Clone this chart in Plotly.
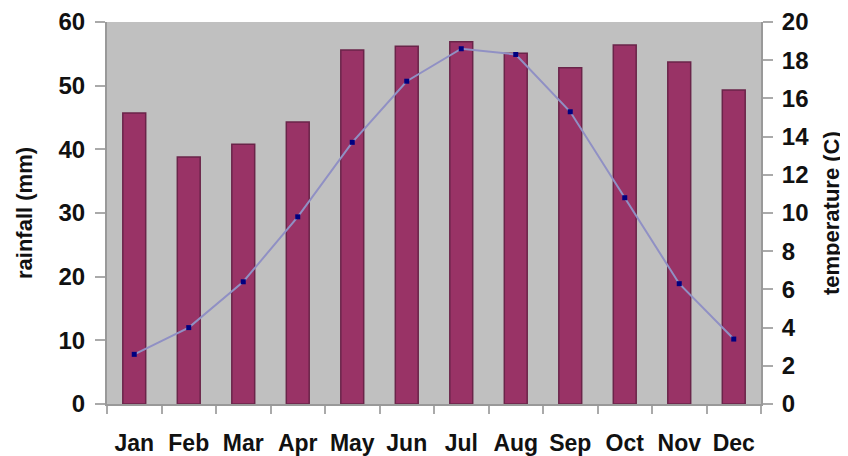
import plotly.graph_objects as go

months = ["Jan", "Feb", "Mar", "Apr", "May", "Jun", "Jul", "Aug", "Sep", "Oct", "Nov", "Dec"]
rainfall_mm = [45.7, 38.8, 40.8, 44.3, 55.6, 56.2, 56.9, 55.1, 52.8, 56.4, 53.7, 49.3]
temperature_c = [2.6, 4.0, 6.4, 9.8, 13.7, 16.9, 18.6, 18.3, 15.3, 10.8, 6.3, 3.4]

font_fam = "Liberation Sans, Arial, sans-serif"
# page has an 8px body margin, so the figure is sized/offset to match
W, H = 840, 448
L, R, T, B = 99, 87, 14, 52
PW = W - L - R

fig = go.Figure()
fig.add_trace(go.Bar(
    x=months, y=rainfall_mm, name="rainfall",
    marker=dict(color="#993366", line=dict(color="#6a2449", width=1.5)),
    yaxis="y",
))
fig.add_trace(go.Scatter(
    x=months, y=temperature_c, name="temperature", mode="lines+markers",
    line=dict(color="#9090c4", width=2),
    marker=dict(symbol="square", size=5, color="#000080"),
    yaxis="y2",
))

xtickfont = dict(family=font_fam, size=23, color="#111111", weight="bold")
ytickfont = dict(family=font_fam, size=24, color="#111111", weight="bold")
titlefont = dict(family=font_fam, size=22, color="#111111", weight="bold")

fig.update_layout(
    width=W, height=H,
    margin=dict(l=L, r=R, t=T, b=B, autoexpand=False),
    paper_bgcolor="white",
    plot_bgcolor="#c0c0c0",
    showlegend=False,
    bargap=0.58,
    xaxis=dict(
        type="category", tickfont=xtickfont, tickson="boundaries", automargin=False,
        tickangle=0, range=[-0.5, len(months) - 0.5],
        ticks="outside", ticklen=8, tickcolor="#aaaaaa", tickwidth=2,
        showline=True, linecolor="#999999", linewidth=2,
        showgrid=False, ticklabelstandoff=17,
    ),
    yaxis=dict(
        range=[0, 60], dtick=10, tickfont=ytickfont, automargin=False,
        ticks="outside", ticklen=10, tickcolor="#aaaaaa", tickwidth=2,
        showline=True, linecolor="#999999", linewidth=2,
        showgrid=False, zeroline=False, ticklabelstandoff=5,
    ),
    yaxis2=dict(
        range=[0, 20], dtick=2, overlaying="y", side="right", tickfont=ytickfont, automargin=False,
        ticks="outside", ticklen=10, tickcolor="#aaaaaa", tickwidth=2,
        showline=True, linecolor="#999999", linewidth=2,
        showgrid=False, zeroline=False, ticklabelstandoff=4,
    ),
    annotations=[
        dict(text="rainfall (mm)", textangle=-90, font=titlefont, showarrow=False,
             xref="paper", yref="paper", x=(16 - L) / PW, y=0.5, xanchor="center", yanchor="middle"),
        dict(text="temperature (C)", textangle=-90, font=titlefont, showarrow=False,
             xref="paper", yref="paper", x=(823 - L) / PW, y=0.5, xanchor="center", yanchor="middle"),
    ],
)

fig.write_html("out.html")
